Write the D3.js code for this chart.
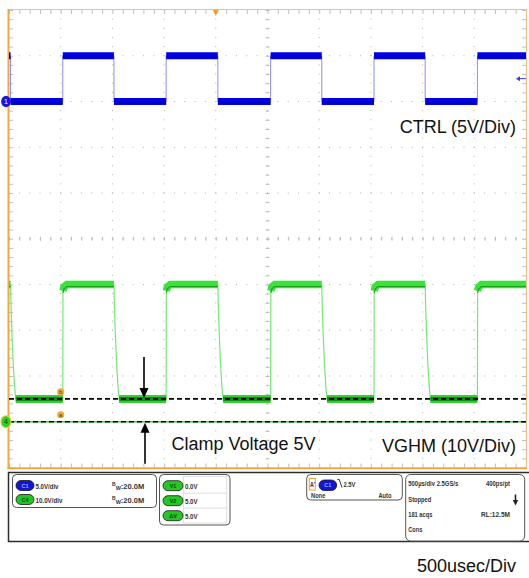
<!DOCTYPE html>
<html>
<head>
<meta charset="utf-8">
<script src="https://cdn.jsdelivr.net/npm/d3@7"></script>
<style>
  html, body { margin: 0; padding: 0; background: #fff; }
  svg { display: block; font-family: "Liberation Sans", Arial, sans-serif; }
</style>
</head>
<body>
<div id="chart"></div>
<script>
// scope screen: 10 div x 500us, 10 vertical divisions
const timeDomain = [0, 5000];
// CTRL (C1, 5V/div) edge times in us, first one is a falling edge
const ctrlEdges = [15, 520, 1015, 1520, 2020, 2530, 3025, 3530, 4025, 4530];
const ctrlLow = 0, ctrlHigh = 5;
// VGHM (C4, 10V/div)
const vghmLow = 5, vghmHigh = 30;
// shape of VGHM right after a falling / rising edge: [us after edge, volts]
const vghmFall = [[0, 30], [3, 26.5], [12, 20], [25, 13], [38, 8], [50, 5]];
const vghmRise = [[0, 5], [2, 28.6], [12, 29.5], [40, 30]];
// cursors a and b (volts on C4)
const cursorA = 0, cursorB = 5;

const labels = {
  ctrl: "CTRL (5V/Div)",
  vghm: "VGHM (10V/Div)",
  clamp: "Clamp Voltage 5V",
  time: "500usec/Div"
};
const chanRows = [["C1", "5.0V/div", "#1414d8"], ["C4", "10.0V/div", "#22c422"]];
const cursorRows = [["V1", "0.0V"], ["V2", "5.0V"], ["ΔV", "5.0V"]];

const W = 529, H = 578;
const plot = { left: 9, right: 526, top: 10, bottom: 467.5 };

const svg = d3.select("#chart").append("svg")
  .attr("width", W).attr("height", H).attr("viewBox", [0, 0, W, H]);

const x = d3.scaleLinear().domain(timeDomain).range([plot.left, plot.right]);
const divY = d3.scaleLinear().domain([-5, 5]).range([plot.bottom, plot.top]);
// C1 ground 3 div above centre, C4 ground 4 div below centre
const ctrlY = d3.scaleLinear().domain([-40, 10]).range([plot.bottom, plot.top]);
const vghmY = d3.scaleLinear().domain([-10, 90]).range([plot.bottom, plot.top]);

const xMinor = d3.range(0, 5001, 100);
const yMinor = d3.range(-5, 5.001, 0.2);
const xMajor = d3.range(500, 5000, 500);
const yMajor = d3.range(-4, 5, 1);

// ---- graticule
const grid = svg.append("g");
xMajor.forEach(t => {
  grid.selectAll(null).data(yMinor).join("rect")
    .attr("x", x(t) - 0.5).attr("y", d => divY(d) - 0.5)
    .attr("width", 1).attr("height", 1).attr("fill", "#b0b0b0");
});
yMajor.forEach(v => {
  grid.selectAll(null).data(xMinor).join("rect")
    .attr("x", d => x(d) - 0.5).attr("y", divY(v) - 0.5)
    .attr("width", 1).attr("height", 1).attr("fill", "#b0b0b0");
});

// border + centre ticks
grid.append("g").attr("transform", `translate(0,${plot.top})`)
  .call(d3.axisBottom(x).tickValues(xMinor).tickSize(4).tickFormat(""));
grid.append("g").attr("transform", `translate(0,${plot.bottom})`)
  .call(d3.axisTop(x).tickValues(xMinor).tickSize(4).tickFormat(""));
grid.append("g").attr("transform", `translate(0,${divY(0) + 2})`)
  .call(d3.axisTop(x).tickValues(xMinor).tickSize(4).tickFormat(""));
grid.append("g").attr("transform", `translate(${plot.left},0)`)
  .call(d3.axisRight(divY).tickValues(yMinor).tickSize(4).tickFormat(""));
grid.append("g").attr("transform", `translate(${plot.right},0)`)
  .call(d3.axisLeft(divY).tickValues(yMinor).tickSize(4).tickFormat(""));
grid.append("g").attr("transform", `translate(${x(2500) - 2},0)`)
  .call(d3.axisRight(divY).tickValues(yMinor).tickSize(4).tickFormat(""));
grid.selectAll(".domain").remove();
grid.selectAll(".tick line").attr("stroke", "#a6a6a6").attr("stroke-width", 0.7);

// frame
svg.append("line").attr("x1", plot.left).attr("x2", plot.right).attr("y1", plot.top - 0.5).attr("y2", plot.top - 0.5)
  .attr("stroke", "#e9c189").attr("stroke-width", 1.2);
svg.append("line").attr("x1", plot.right + 0.5).attr("x2", plot.right + 0.5).attr("y1", plot.top - 1).attr("y2", plot.bottom)
  .attr("stroke", "#e9c189").attr("stroke-width", 1.2);
svg.append("line").attr("x1", plot.left - 0.5).attr("x2", plot.left - 0.5).attr("y1", plot.top - 1).attr("y2", plot.bottom + 1.5)
  .attr("stroke", "#f3a73c").attr("stroke-width", 2);
svg.append("line").attr("x1", plot.left - 1.5).attr("x2", plot.right + 1).attr("y1", plot.bottom + 0.8).attr("y2", plot.bottom + 0.8)
  .attr("stroke", "#f3a73c").attr("stroke-width", 2);

// ---- CTRL trace
const ctrlPts = [[0, ctrlHigh]];
const ctrlSegs = [];
let lvl = ctrlHigh, prev = 0;
ctrlEdges.forEach(t => {
  ctrlSegs.push([prev, t, lvl]);
  ctrlPts.push([t, lvl]);
  lvl = lvl === ctrlHigh ? ctrlLow : ctrlHigh;
  ctrlPts.push([t, lvl]);
  prev = t;
});
ctrlSegs.push([prev, 5000, lvl]);
ctrlPts.push([5000, lvl]);

const ctrlLine = d3.line().x(d => x(d[0])).y(d => ctrlY(d[1]));
svg.append("path").attr("d", ctrlLine(ctrlPts))
  .attr("fill", "none").attr("stroke", "#8c8cff").attr("stroke-width", 1);
svg.selectAll("line.cband").data(ctrlSegs).join("line")
  .attr("class", "cband")
  .attr("x1", d => x(d[0])).attr("x2", d => x(d[1]))
  .attr("y1", d => ctrlY(d[2])).attr("y2", d => ctrlY(d[2]))
  .attr("stroke", "#0000e8").attr("stroke-width", 7);
svg.selectAll("line.cin").data(ctrlSegs).join("line")
  .attr("class", "cin")
  .attr("x1", d => x(d[0])).attr("x2", d => x(d[1]))
  .attr("y1", d => ctrlY(d[2]) + 1.5).attr("y2", d => ctrlY(d[2]) + 1.5)
  .attr("stroke", "#00009a").attr("stroke-width", 1);

// ---- VGHM trace
const vPts = [[0, vghmHigh]];
const highSegs = [[[0, vghmHigh]]];
const lowSegs = [];
ctrlEdges.forEach((t, i) => {
  if (i % 2 === 0) {
    highSegs[highSegs.length - 1].push([t, vghmHigh]);
    vghmFall.forEach(p => vPts.push([t + p[0], p[1]]));
    lowSegs.push([[t + vghmFall[vghmFall.length - 1][0], vghmLow]]);
  } else {
    lowSegs[lowSegs.length - 1].push([t, vghmLow]);
    vghmRise.forEach(p => vPts.push([t + p[0], p[1]]));
    highSegs.push(vghmRise.slice(1).map(p => [t + p[0], p[1]]));
  }
});
highSegs[highSegs.length - 1].push([5000, vghmHigh]);
vPts.push([5000, vghmHigh]);

const vLine = d3.line().x(d => x(d[0])).y(d => vghmY(d[1]));
svg.append("path").attr("d", vLine(vPts))
  .attr("fill", "none").attr("stroke", "#74e874").attr("stroke-width", 1.2);
svg.selectAll("path.hband").data(highSegs).join("path")
  .attr("class", "hband").attr("d", vLine)
  .attr("fill", "none").attr("stroke", "#3ae23a").attr("stroke-width", 7.5);
svg.selectAll("path.hin").data(highSegs).join("path")
  .attr("class", "hin").attr("d", vLine).attr("transform", "translate(0,2)")
  .attr("fill", "none").attr("stroke", "#1c9c1c").attr("stroke-width", 1.1);
svg.selectAll("path.lband").data(lowSegs).join("path")
  .attr("class", "lband").attr("d", vLine)
  .attr("fill", "none").attr("stroke", "#2fd02f").attr("stroke-width", 8);
svg.selectAll("path.lin").data(lowSegs).join("path")
  .attr("class", "lin").attr("d", vLine)
  .attr("fill", "none").attr("stroke", "#128c12").attr("stroke-width", 4);

// ---- cursors
svg.append("line").attr("x1", plot.left).attr("x2", plot.right)
  .attr("y1", vghmY(cursorA)).attr("y2", vghmY(cursorA))
  .attr("stroke", "#3fd03f").attr("stroke-width", 1.5);
[cursorA, cursorB].forEach(v => {
  svg.append("line").attr("x1", plot.left).attr("x2", plot.right)
    .attr("y1", vghmY(v)).attr("y2", vghmY(v))
    .attr("stroke", "#000").attr("stroke-width", 1.6).attr("stroke-dasharray", "5,3");
});
[["b", cursorB], ["a", cursorA]].forEach(([n, v]) => {
  const cy = vghmY(v) - 7;
  svg.append("circle").attr("cx", x(500)).attr("cy", cy).attr("r", 3.6).attr("fill", "#f2a93a");
  svg.append("text").attr("x", x(500)).attr("y", cy + 2.2).attr("text-anchor", "middle")
    .attr("font-size", 6).attr("fill", "#5a3a00").text(n);
});

// ---- channel markers and trigger markers
svg.append("ellipse").attr("cx", 6).attr("cy", ctrlY(0)).attr("rx", 4.8).attr("ry", 5.8).attr("fill", "#1515e0");
svg.append("text").attr("x", 6).attr("y", ctrlY(0) + 2.5).attr("text-anchor", "middle")
  .attr("font-size", 7).attr("fill", "#fff").text("1");
svg.append("ellipse").attr("cx", 6).attr("cy", vghmY(0)).attr("rx", 5).attr("ry", 6)
  .attr("fill", "#22d822").attr("stroke", "#f5c040").attr("stroke-width", 1.2);
svg.append("text").attr("x", 6).attr("y", vghmY(0) + 2.5).attr("text-anchor", "middle")
  .attr("font-size", 7).attr("fill", "#124012").text("4");
svg.append("path").attr("d", `M${x(2000) - 3},${plot.top} L${x(2000) + 3},${plot.top} L${x(2000)},${plot.top + 6}Z`)
  .attr("fill", "#f39a2a");
const trigY = ctrlY(2.5);
svg.append("line").attr("x1", plot.right - 8).attr("x2", plot.right).attr("y1", trigY).attr("y2", trigY)
  .attr("stroke", "#3a3af0").attr("stroke-width", 1);
svg.append("path").attr("d", `M${plot.right - 10},${trigY} L${plot.right - 6},${trigY - 2.5} L${plot.right - 6},${trigY + 2.5}Z`)
  .attr("fill", "#3a3af0");

// ---- annotation arrows
const ax1 = 144, ax2 = 145;
const tipB = vghmY(cursorB) - 1, tipA = vghmY(cursorA) + 1;
svg.append("line").attr("x1", ax1).attr("x2", ax1).attr("y1", tipB - 41).attr("y2", tipB - 8)
  .attr("stroke", "#000").attr("stroke-width", 1.6);
svg.append("path").attr("d", `M${ax1 - 4.5},${tipB - 10} L${ax1 + 4.5},${tipB - 10} L${ax1},${tipB}Z`).attr("fill", "#000");
svg.append("line").attr("x1", ax2).attr("x2", ax2).attr("y1", tipA + 41).attr("y2", tipA + 8)
  .attr("stroke", "#000").attr("stroke-width", 1.6);
svg.append("path").attr("d", `M${ax2 - 4.5},${tipA + 10} L${ax2 + 4.5},${tipA + 10} L${ax2},${tipA}Z`).attr("fill", "#000");

// ---- big labels
const big = (t, xx, yy, anchor) => svg.append("text").attr("x", xx).attr("y", yy)
  .attr("text-anchor", anchor).attr("font-size", 18).attr("fill", "#111").text(t);
big(labels.ctrl, 516, 133, "end");
big(labels.clamp, 171.5, 450, "start");
big(labels.vghm, 516, 452, "end");
big(labels.time, 516, 572, "end");

// ---- readout panel
const panel = svg.append("g").attr("font-family", "'Liberation Sans Narrow','Liberation Sans',Arial,sans-serif")
  .attr("font-weight", "bold").attr("fill", "#333");
panel.append("rect").attr("x", 8.5).attr("y", 472.5).attr("width", 530).attr("height", 69)
  .attr("fill", "#fff").attr("stroke", "#2c2c2c").attr("stroke-width", 1.5);
const box = (bx, by, bw, bh) => panel.append("rect").attr("x", bx).attr("y", by).attr("width", bw).attr("height", bh)
  .attr("rx", 4).attr("fill", "#fff").attr("stroke", "#555").attr("stroke-width", 1);
const txt = (t, tx, ty, len, size = 7.5) => {
  const e = panel.append("text").attr("x", tx).attr("y", ty).attr("font-size", size).text(t);
  if (len) e.attr("textLength", len).attr("lengthAdjust", "spacingAndGlyphs");
  return e;
};
const pill = (px, py, pw, ph, col, lab, labCol) => {
  panel.append("rect").attr("x", px).attr("y", py).attr("width", pw).attr("height", ph)
    .attr("rx", ph / 2).attr("fill", col).attr("stroke", "#1a1a1a").attr("stroke-width", 0.8);
  panel.append("text").attr("x", px + pw / 2).attr("y", py + ph / 2 + 2).attr("text-anchor", "middle")
    .attr("font-size", 5.5).attr("fill", labCol).text(lab);
};

box(12.5, 474.5, 144, 33);
chanRows.forEach((r, i) => {
  const cy = 485.5 + i * 14;
  pill(16, cy - 5, 18, 10, r[2], r[0], i === 0 ? "#9fa8ff" : "#0c4a0c");
  txt(r[1], 35.5, cy + 3, i === 0 ? 23 : 27);
  const bw = txt("", 112, cy + 3);
  bw.append("tspan").attr("font-size", 5).attr("dy", -2.5).text("B");
  bw.append("tspan").attr("font-size", 5.5).attr("dy", 3.5).text("W");
  bw.append("tspan").attr("dy", -1).text(":20.0M");
});

box(159.5, 474.5, 70.5, 50.5);
panel.append("rect").attr("x", 183.3).attr("y", 476.5).attr("width", 43.5).attr("height", 46.5)
  .attr("fill", "#fff").attr("stroke", "#d8d8d8").attr("stroke-width", 0.8);
cursorRows.forEach((r, i) => {
  const cy = 485.7 + i * 15;
  if (i > 0) panel.append("line").attr("x1", 183.3).attr("x2", 226.8).attr("y1", cy - 7.5).attr("y2", cy - 7.5)
    .attr("stroke", "#d8d8d8").attr("stroke-width", 0.8);
  pill(163, cy - 5, 20, 10, "#26c626", r[0], "#0c4a0c");
  txt(r[1], 185, cy + 3, 12.5);
});

box(306.7, 474.5, 95.6, 25.5);
panel.append("rect").attr("x", 309.3).attr("y", 478.5).attr("width", 6).attr("height", 11.5)
  .attr("fill", "#fff").attr("stroke", "#f0a030").attr("stroke-width", 1);
txt("A'", 310, 487, 5, 7);
pill(319, 480, 17.7, 10.5, "#1414d8", "C1", "#9fa8ff");
panel.append("path").attr("d", "M337.5,479.5 L339.3,479.5 L342,487.5").attr("fill", "none").attr("stroke", "#333").attr("stroke-width", 1);
txt("2.5V", 343.5, 486.5, 12);
txt("None", 311, 497.5, 14.5);
txt("Auto", 378.5, 497.5, 13);

panel.append("rect").attr("x", 405.7).attr("y", 474.5).attr("width", 119).attr("height", 66.5)
  .attr("rx", 5).attr("fill", "#fff").attr("stroke", "#555").attr("stroke-width", 1);
txt("500µs/div 2.5GS/s", 408.3, 485.5, 50);
txt("400ps/pt", 486, 485.5, 24);
txt("Stopped", 408.3, 502, 23);
txt("181 acqs", 408.3, 517, 24);
txt("RL:12.5M", 481, 517, 29);
txt("Cons", 408.3, 532, 14);
panel.append("line").attr("x1", 515.5).attr("x2", 515.5).attr("y1", 494.5).attr("y2", 501)
  .attr("stroke", "#222").attr("stroke-width", 1.6);
panel.append("path").attr("d", "M512.8,500 L518.2,500 L515.5,505.5Z").attr("fill", "#222");
</script>
</body>
</html>
